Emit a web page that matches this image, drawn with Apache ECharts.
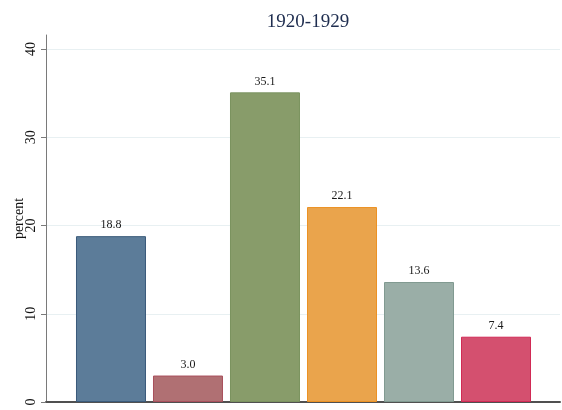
<!DOCTYPE html>
<html>
<head>
<meta charset="utf-8">
<script src="https://cdn.jsdelivr.net/npm/echarts@6/dist/echarts.min.js"></script>
<style>html,body{margin:0;padding:0;background:#fff}#c{width:562px;height:410px}</style>
</head>
<body>
<div id="c"></div>
<script>
var titleText = '1920-1929';
var positions = [1, 2, 3, 4, 5, 6];
var values = [18.8, 3.0, 35.1, 22.1, 13.6, 7.4];
var yTicks = [0, 10, 20, 30, 40];
var fillColors = ['#5c7c99', '#b07073', '#889c6a', '#eaa44c', '#9aaea7', '#d4506f'];
var borderColors = ['#3b5b7b', '#a9505d', '#7b9360', '#ec9224', '#819a91', '#d12a55'];

var serif = '"Liberation Serif", "DejaVu Serif", serif';
var chart = echarts.init(document.getElementById('c'));
var data = positions.map(function (p, i) {
  return {
    value: [p, values[i]],
    itemStyle: { color: fillColors[i], borderColor: borderColors[i], borderWidth: 1 }
  };
});
chart.setOption({
  animation: false,
  title: {
    text: titleText, left: 303, top: 8, textAlign: 'center',
    textStyle: { fontFamily: serif, fontSize: 19, fontWeight: 'normal', color: '#1e2d4f' }
  },
  grid: { left: 46, right: 2, top: 35, bottom: 8, containLabel: false, outerBoundsMode: 'none' },
  xAxis: {
    type: 'value', min: 0.156, max: 6.831,
    axisLine: { show: true, onZero: false, lineStyle: { color: '#505050', width: 2 } },
    axisTick: { show: false }, axisLabel: { show: false }, splitLine: { show: false }
  },
  yAxis: {
    type: 'value', min: 0, max: 41.6, interval: 10,
    name: 'percent', nameLocation: 'middle', nameRotate: 90, nameGap: 20, nameMoveOverlap: false,
    nameTextStyle: { fontFamily: serif, fontSize: 14, color: '#111' },
    axisLine: { show: true, onZero: false, lineStyle: { color: '#7a7a7a', width: 1 } },
    axisTick: { show: true, length: 5, customValues: yTicks, lineStyle: { color: '#7a7a7a' } },
    axisLabel: {
      rotate: 90, margin: 8, customValues: yTicks,
      fontFamily: serif, fontSize: 14, color: '#111'
    },
    splitLine: { show: true, lineStyle: { color: '#e8f0f2', width: 1 } }
  },
  series: [{
    type: 'bar', barWidth: 70, data: data,
    label: {
      show: true, position: 'top', distance: 5,
      fontFamily: serif, fontSize: 12, color: '#1a1a1a',
      formatter: function (p) { return p.value[1].toFixed(1); }
    }
  }]
});
</script>
</body>
</html>
